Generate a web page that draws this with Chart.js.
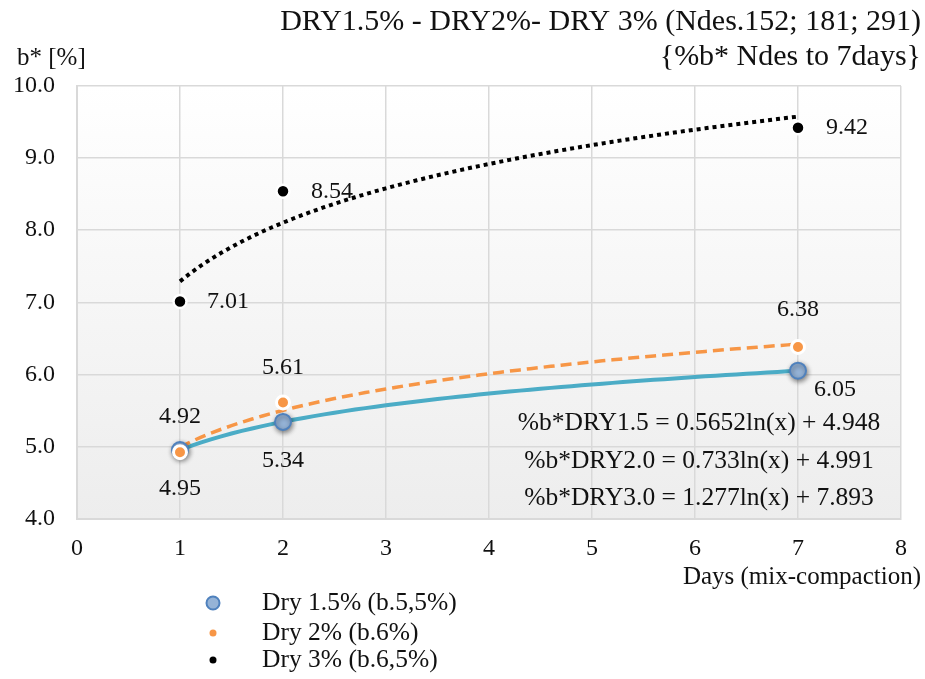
<!DOCTYPE html>
<html>
<head>
<meta charset="utf-8">
<script src="https://cdn.jsdelivr.net/npm/chart.js@4"></script>
<style>
  html, body { margin: 0; padding: 0; background: #ffffff; }
  #wrap { width: 925px; height: 679px; position: relative; }
</style>
</head>
<body>
<div id="wrap"><canvas id="c" width="925" height="679"></canvas></div>
<script>
// ---- data ----
const days = [1, 2, 7];
const dry15 = [4.95, 5.34, 6.05];
const dry20 = [4.92, 5.61, 6.38];
const dry30 = [7.01, 8.54, 9.42];
const seriesNames = ['Dry 1.5% (b.5,5%)', 'Dry 2% (b.6%)', 'Dry 3% (b.6,5%)'];
const equations = [
  '%b*DRY1.5 = 0.5652ln(x) + 4.948',
  '%b*DRY2.0 = 0.733ln(x) + 4.991',
  '%b*DRY3.0 = 1.277ln(x) + 7.893'
];
const xTicks = [0, 1, 2, 3, 4, 5, 6, 7, 8];
const yTicks = [4, 5, 6, 7, 8, 9, 10];
const titleLines = ['DRY1.5% - DRY2%- DRY 3% (Ndes.152; 181; 291)', '{%b* Ndes to 7days}'];
const yTitle = 'b* [%]';
const xTitle = 'Days (mix-compaction)';

// ---- logarithmic least-squares trendline (as the spreadsheet draws it) ----
function logFit(xs, ys) {
  const lx = xs.map(Math.log);
  const n = xs.length;
  const mx = lx.reduce((a, b) => a + b, 0) / n;
  const my = ys.reduce((a, b) => a + b, 0) / n;
  let sxy = 0, sxx = 0;
  for (let i = 0; i < n; i++) { sxy += (lx[i] - mx) * (ys[i] - my); sxx += (lx[i] - mx) ** 2; }
  const a = sxy / sxx, b = my - a * mx;
  const pts = [];
  const x0 = Math.min(...xs), x1 = Math.max(...xs);
  for (let k = 0; k <= 60; k++) { const x = x0 + (x1 - x0) * k / 60; pts.push({ x: x, y: a * Math.log(x) + b }); }
  return pts;
}
const toPts = (ys) => days.map((d, i) => ({ x: d, y: ys[i] }));

const FONT = 'Liberation Serif, Times New Roman, serif';
const TEXT = '#111111';
const BLUE_LINE = '#4bacc6';
const ORANGE = '#f79646';
const BLUE_FILL = '#95b3d7';
const BLUE_EDGE = '#4f81bd';

// label placement per series (style, not data): [dx, dy]
const labelOffsets = [
  [[0, 39], [0, 39], [37, 19]],
  [[0, -35], [0, -35], [0, -37]],
  [[48, 0], [49, 0], [49, 0]]
];

const bgPlugin = {
  id: 'bg',
  beforeDraw(chart) {
    const { ctx, chartArea: a } = chart;
    const g = ctx.createLinearGradient(0, a.top, 0, a.bottom);
    g.addColorStop(0, '#ffffff');
    g.addColorStop(1, '#ededed');
    ctx.save();
    ctx.fillStyle = g;
    ctx.fillRect(a.left, a.top, a.right - a.left, a.bottom - a.top);
    ctx.restore();
  }
};

const shadowPlugin = {
  id: 'shadow',
  beforeDatasetDraw(chart, args) {
    if (args.index === 3) {
      chart.ctx.save();
      chart.ctx.shadowColor = 'rgba(0,0,0,0.45)';
      chart.ctx.shadowBlur = 5;
      chart.ctx.shadowOffsetX = 1;
      chart.ctx.shadowOffsetY = 2;
    }
  },
  afterDatasetDraw(chart, args) {
    if (args.index === 3) chart.ctx.restore();
  }
};

const textPlugin = {
  id: 'texts',
  afterDraw(chart) {
    const { ctx, scales: { x, y } } = chart;
    ctx.save();
    ctx.fillStyle = TEXT;
    // titles
    ctx.font = '30px ' + FONT;
    ctx.textAlign = 'right';
    ctx.textBaseline = 'middle';
    ctx.fillText(titleLines[0], 921, 22);
    ctx.fillText(titleLines[1], 921, 57);
    ctx.font = '25px ' + FONT;
    ctx.textAlign = 'left';
    ctx.fillText(yTitle, 17, 58);
    ctx.textAlign = 'right';
    ctx.fillText(xTitle, 921, 577);
    // data labels
    const series = [dry15, dry20, dry30];
    ctx.font = '24px ' + FONT;
    ctx.textAlign = 'center';
    series.forEach((ys, s) => {
      ys.forEach((v, i) => {
        const px = x.getPixelForValue(days[i]) + labelOffsets[s][i][0];
        const py = y.getPixelForValue(v) + labelOffsets[s][i][1];
        ctx.fillText(v.toFixed(2), px, py);
      });
    });
    // equations
    ctx.font = '25.5px ' + FONT;
    const eqY = [423, 461, 498];
    equations.forEach((t, i) => ctx.fillText(t, 699, eqY[i]));
    // legend
    const legY = [603, 633, 660];
    ctx.textAlign = 'left';
    ctx.font = '25.5px ' + FONT;
    seriesNames.forEach((t, i) => {
      ctx.beginPath();
      if (i === 0) {
        ctx.arc(213, legY[i], 6.5, 0, Math.PI * 2);
        ctx.fillStyle = BLUE_FILL; ctx.fill();
        ctx.lineWidth = 2; ctx.strokeStyle = BLUE_EDGE; ctx.stroke();
      } else {
        ctx.arc(213, legY[i], 3.5, 0, Math.PI * 2);
        ctx.fillStyle = i === 1 ? ORANGE : '#000000'; ctx.fill();
      }
      ctx.fillStyle = TEXT;
      ctx.fillText(t, 262, legY[i]);
    });
    ctx.restore();
  }
};

new Chart(document.getElementById('c'), {
  type: 'scatter',
  data: {
    datasets: [
      { label: 'trend 1.5', data: logFit(days, dry15), showLine: true, pointRadius: 0, borderColor: BLUE_LINE, borderWidth: 4, tension: 0, order: 6 },
      { label: 'trend 2', data: logFit(days, dry20), showLine: true, pointRadius: 0, borderColor: ORANGE, borderWidth: 3.5, borderDash: [11, 6], tension: 0, order: 5 },
      { label: 'trend 3', data: logFit(days, dry30), showLine: true, pointRadius: 0, borderColor: '#000000', borderWidth: 4, borderDash: [4, 4], tension: 0, order: 4 },
      { label: seriesNames[0], data: toPts(dry15), pointRadius: 8, pointBackgroundColor: BLUE_FILL, pointBorderColor: BLUE_EDGE, pointBorderWidth: 2, order: 3 },
      { label: seriesNames[1], data: toPts(dry20), pointRadius: 6.5, pointBackgroundColor: ORANGE, pointBorderColor: '#ffffff', pointBorderWidth: 3, order: 2 },
      { label: seriesNames[2], data: toPts(dry30), pointRadius: 6.5, pointBackgroundColor: '#000000', pointBorderColor: '#ffffff', pointBorderWidth: 2.5, order: 1 }
    ]
  },
  options: {
    responsive: false,
    animation: false,
    events: [],
    layout: { padding: { left: 0, right: 24, top: 86, bottom: 120.5 } },
    plugins: { legend: { display: false }, tooltip: { enabled: false }, title: { display: false } },
    scales: {
      x: {
        type: 'linear', min: 0, max: 8,
        afterFit(s) { s.height = 40; },
        afterBuildTicks(s) { s.ticks = xTicks.map(v => ({ value: v })); },
        grid: { color: '#d9d9d9', lineWidth: 1.5, drawTicks: false },
        border: { display: true, color: '#d9d9d9', width: 2 },
        ticks: { padding: 16, color: TEXT, font: { family: FONT, size: 24 }, callback: v => String(v) }
      },
      y: {
        type: 'linear', min: 4, max: 10,
        afterFit(s) { s.width = 77; },
        afterBuildTicks(s) { s.ticks = yTicks.map(v => ({ value: v })); },
        grid: { color: '#d9d9d9', lineWidth: 1.5, drawTicks: false },
        border: { display: true, color: '#d9d9d9', width: 2 },
        ticks: { padding: 22, color: TEXT, font: { family: FONT, size: 24 }, callback: v => Number(v).toFixed(1) }
      }
    }
  },
  plugins: [bgPlugin, shadowPlugin, textPlugin]
});
</script>
</body>
</html>
